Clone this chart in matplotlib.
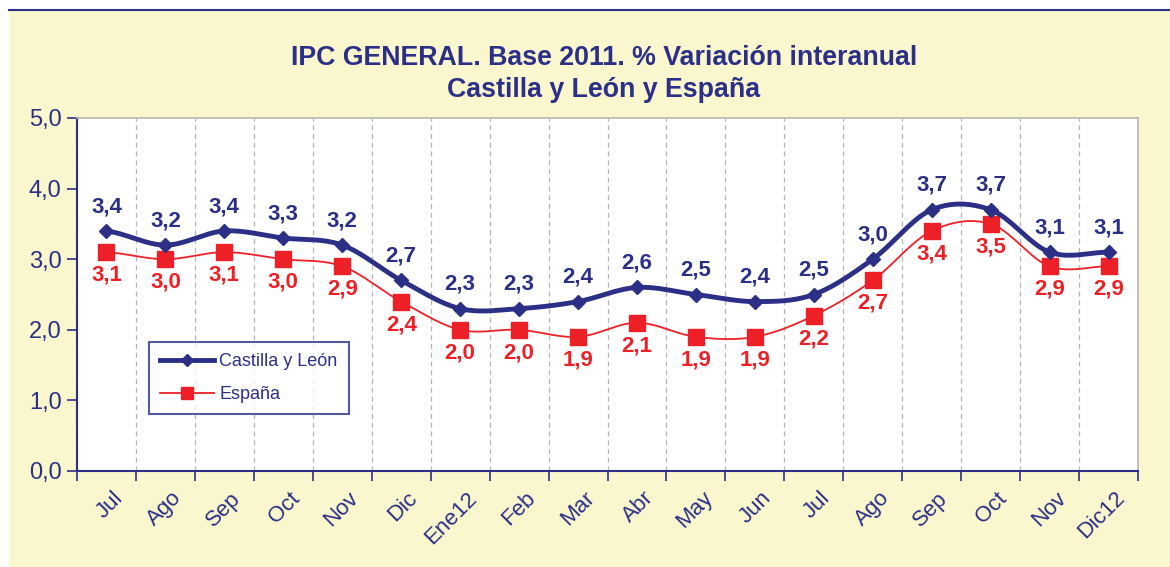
import numpy as np
import matplotlib.pyplot as plt
from matplotlib.patches import Rectangle
from matplotlib.lines import Line2D

# --- data ---
months = ["Jul", "Ago", "Sep", "Oct", "Nov", "Dic", "Ene12", "Feb", "Mar",
          "Abr", "May", "Jun", "Jul", "Ago", "Sep", "Oct", "Nov", "Dic12"]
cyl = [3.4, 3.2, 3.4, 3.3, 3.2, 2.7, 2.3, 2.3, 2.4, 2.6, 2.5, 2.4, 2.5, 3.0, 3.7, 3.7, 3.1, 3.1]
esp = [3.1, 3.0, 3.1, 3.0, 2.9, 2.4, 2.0, 2.0, 1.9, 2.1, 1.9, 1.9, 2.2, 2.7, 3.4, 3.5, 2.9, 2.9]

NAVY = "#2B2F86"
RED = "#EE2027"
YELLOW = "#FAF7CF"

plt.rcParams['font.family'] = ['Liberation Sans', 'DejaVu Sans']


def smooth(x, y, n=20):
    # catmull-rom curve through the points, only for drawing the line
    x = np.asarray(x, float)
    y = np.asarray(y, float)
    px = np.concatenate([[2 * x[0] - x[1]], x, [2 * x[-1] - x[-2]]])
    py = np.concatenate([[y[0]], y, [y[-1]]])
    xs, ys = [], []
    t = np.linspace(0, 1, n, endpoint=False)
    for i in range(1, len(px) - 2):
        for p, out in ((px, xs), (py, ys)):
            p0, p1, p2, p3 = p[i - 1], p[i], p[i + 1], p[i + 2]
            out.extend(0.5 * (2 * p1 + (-p0 + p2) * t + (2 * p0 - 5 * p1 + 4 * p2 - p3) * t ** 2
                              + (-p0 + 3 * p1 - 3 * p2 + p3) * t ** 3))
    xs.append(x[-1])
    ys.append(y[-1])
    return np.array(xs), np.array(ys)


fig = plt.figure(figsize=(11.7, 5.67), dpi=100, facecolor="white")
bg = Rectangle((9 / 1170, 0), 1 - 9 / 1170, 1 - 10 / 567, transform=fig.transFigure,
               facecolor=YELLOW, edgecolor="none", zorder=-10)
fig.add_artist(bg)
fig.add_artist(Line2D([9 / 1170, 1], [1 - 10 / 567] * 2, transform=fig.transFigure,
                      color=NAVY, lw=1.5, zorder=-9))

ax = fig.add_axes([77 / 1170, 1 - 471 / 567, (1138 - 77) / 1170, (471 - 118) / 567])
ax.set_facecolor("white")

x = np.arange(len(months)) + 0.5
sx, sy = smooth(x, cyl)
ax.plot(sx, sy, color=NAVY, lw=3.5, solid_capstyle="round", zorder=4)
ax.plot(x, cyl, ls="none", marker="D", ms=7, color=NAVY, zorder=5)
ex, ey = smooth(x, esp)
ax.plot(ex, ey, color=RED, lw=1.3, zorder=3)
ax.plot(x, esp, ls="none", marker="s", ms=11, color=RED, zorder=3)

for xi, v in zip(x, cyl):
    ax.annotate(f"{v:.1f}".replace(".", ","), (xi, v), xytext=(0, 10), textcoords="offset points",
                ha="center", va="bottom", color=NAVY, fontsize=16, fontweight="bold")
for xi, v in zip(x, esp):
    ax.annotate(f"{v:.1f}".replace(".", ","), (xi, v), xytext=(0, -9), textcoords="offset points",
                ha="center", va="top", color=RED, fontsize=16, fontweight="bold")

ax.set_xlim(0, len(months))
ax.set_ylim(0, 5)
ax.set_yticks(np.arange(0, 6))
ax.set_yticklabels([f"{v:.1f}".replace(".", ",") for v in range(6)], fontsize=17, color=NAVY)
ax.set_xticks(np.arange(0, len(months) + 1))
ax.set_xticklabels([])
ax.set_xticks(x + 0.1, minor=True)
ax.set_xticklabels(months, minor=True, rotation=45, ha="right", va="top",
                   fontsize=16, color=NAVY, rotation_mode="anchor")
ax.tick_params(axis="x", which="minor", length=0, pad=12)
ax.tick_params(axis="both", which="major", color=NAVY, length=7, width=1.2, direction="out")
ax.tick_params(axis="y", pad=4)
ax.grid(axis="x", which="major", color="#B5B5B5", ls=(0, (4, 3)), lw=0.9)

for s in ("left", "bottom"):
    ax.spines[s].set_color(NAVY)
    ax.spines[s].set_linewidth(1.5)
for s in ("top", "right"):
    ax.spines[s].set_color("#B5B5B5")
    ax.spines[s].set_linewidth(1.2)

cx = 604 / 1170
fig.text(cx, 1 - 58 / 567, "IPC GENERAL. Base 2011. % Variación interanual", ha="center", va="center",
         fontsize=19.3, fontweight="bold", color=NAVY)
fig.text(cx, 1 - 90 / 567, "Castilla y León y España", ha="center", va="center",
         fontsize=19.3, fontweight="bold", color=NAVY)

handles = [Line2D([], [], color=NAVY, lw=3.5, marker="D", ms=6),
           Line2D([], [], color=RED, lw=1.3, marker="s", ms=9)]
leg = ax.legend(handles, ["Castilla y León", "España"], loc="upper left",
                bbox_to_anchor=((149 - 77) / (1138 - 77), (471 - 342) / (471 - 118)),
                fontsize=13, frameon=True, fancybox=False, handlelength=3.0,
                borderpad=0.6, labelspacing=0.9, handletextpad=0.3, borderaxespad=0)
leg.get_frame().set_edgecolor(NAVY)
leg.get_frame().set_linewidth(1.5)
for t in leg.get_texts():
    t.set_color(NAVY)

fig.savefig("out.png", dpi=100, facecolor=fig.get_facecolor())
